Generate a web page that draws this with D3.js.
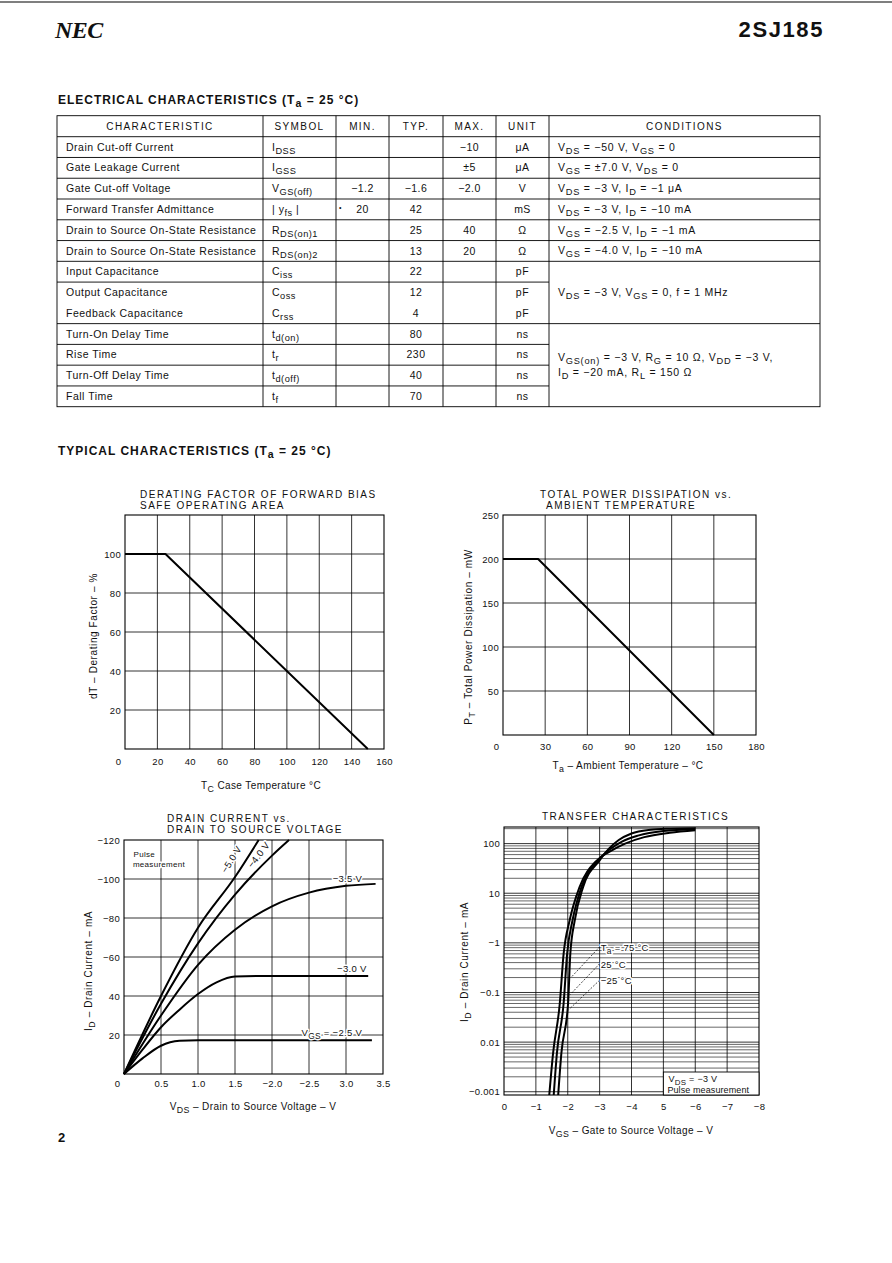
<!DOCTYPE html>
<html>
<head>
<meta charset="utf-8">
<title>2SJ185</title>
<script src="https://cdn.jsdelivr.net/npm/d3@7/dist/d3.min.js"></script>
<style>
  body { margin: 0; background: #fff; }
  svg { display: block; }
  text { font-family: "Liberation Sans", Arial, Helvetica, sans-serif; fill: #111; }
</style>
</head>
<body>
<svg id="page" width="892" height="1263"></svg>
<script>
// ---------- table data
var headers = ["CHARACTERISTIC", "SYMBOL", "MIN.", "TYP.", "MAX.", "UNIT", "CONDITIONS"];
var characteristics = ["Drain Cut-off Current", "Gate Leakage Current", "Gate Cut-off Voltage",
  "Forward Transfer Admittance", "Drain to Source On-State Resistance", "Drain to Source On-State Resistance",
  "Input Capacitance", "Output Capacitance", "Feedback Capacitance", "Turn-On Delay Time",
  "Rise Time", "Turn-Off Delay Time", "Fall Time"];
var symbols = ["I_{DSS}", "I_{GSS}", "V_{GS(off)}", "| y_{fs} |", "R_{DS(on)1}", "R_{DS(on)2}",
  "C_{iss}", "C_{oss}", "C_{rss}", "t_{d(on)}", "t_{r}", "t_{d(off)}", "t_{f}"];
var minVals = ["", "", "\u22121.2", "20", "", "", "", "", "", "", "", "", ""];
var minMarks = ["", "", "", "\u2022", "", "", "", "", "", "", "", "", ""];
var typVals = ["", "", "\u22121.6", "42", "25", "13", "22", "12", "4", "80", "230", "40", "70"];
var maxVals = ["\u221210", "\u00b15", "\u22122.0", "", "40", "20", "", "", "", "", "", "", ""];
var units = ["\u03bcA", "\u03bcA", "V", "mS", "\u03a9", "\u03a9", "pF", "pF", "pF", "ns", "ns", "ns", "ns"];
var condRows = [[0], [1], [2], [3], [4], [5], [6, 7, 8], [9, 10, 11, 12]];
var condTexts = [
  ["V_{DS} = \u221250 V, V_{GS} = 0"],
  ["V_{GS} = \u00b17.0 V, V_{DS} = 0"],
  ["V_{DS} = \u22123 V, I_{D} = \u22121 \u03bcA"],
  ["V_{DS} = \u22123 V, I_{D} = \u221210 mA"],
  ["V_{GS} = \u22122.5 V, I_{D} = \u22121 mA"],
  ["V_{GS} = \u22124.0 V, I_{D} = \u221210 mA"],
  ["V_{DS} = \u22123 V, V_{GS} = 0, f = 1 MHz"],
  ["V_{GS(on)} = \u22123 V, R_{G} = 10 \u03a9, V_{DD} = \u22123 V,", "I_{D} = \u221220 mA, R_{L} = 150 \u03a9"]
];

// ---------- chart 1: derating factor
var derateTemp = [0, 25, 150];
var derateFactor = [100, 100, 0];
var derateXTicks = [0, 20, 40, 60, 80, 100, 120, 140, 160];
var derateXLabels = ["0", "20", "40", "60", "80", "100", "120", "140", "160"];
var derateYTicks = [20, 40, 60, 80, 100];
var derateYLabels = ["20", "40", "60", "80", "100"];

// ---------- chart 2: total power dissipation
var powerTemp = [0, 25, 150];
var powerDiss = [200, 200, 0];
var powerXTicks = [0, 30, 60, 90, 120, 150, 180];
var powerXLabels = ["0", "30", "60", "90", "120", "150", "180"];
var powerYTicks = [50, 100, 150, 200, 250];
var powerYLabels = ["50", "100", "150", "200", "250"];

// ---------- chart 3: drain current vs drain to source voltage  [ |VDS| V, |ID| mA ]
var idVgs25 = [[0, 0], [0.25, 8], [0.5, 14.5], [0.75, 17], [1.0, 17.3], [3.35, 17.3]];
var idVgs30 = [[0, 0], [0.25, 12.5], [0.5, 24], [0.75, 33], [1.0, 41], [1.25, 47], [1.5, 50], [2.0, 50.3], [3.3, 50.3]];
var idVgs35 = [[0, 0], [0.5, 30], [1.0, 56], [1.5, 74], [2.0, 86], [2.5, 93], [3.0, 96.5], [3.4, 97.5]];
var idVgs40 = [[0, 0], [0.5, 36], [1.0, 67], [1.5, 92], [2.0, 112], [2.23, 120]];
var idVgs50 = [[0, 0], [0.5, 40], [1.0, 75], [1.5, 101], [1.82, 120]];
var drainXTicks = [0, 0.5, 1.0, 1.5, 2.0, 2.5, 3.0, 3.5];
var drainXLabels = ["0", "0.5", "1.0", "1.5", "\u22122.0", "\u22122.5", "3.0", "3.5"];
var drainYTicks = [20, 40, 60, 80, 100, 120];
var drainYLabels = ["20", "40", "\u221260", "\u221280", "\u2212100", "\u2212120"];

// ---------- chart 4: transfer characteristics  [ |VGS| V, |ID| mA ]
var transM25 = [[1.70, 0.00086], [1.80, 0.006], [2.01, 0.06], [2.08, 0.6], [2.22, 2.85], [2.48, 13.3],
  [3.0, 46], [3.3, 80], [3.6, 118], [4.0, 160], [4.6, 190], [5.2, 200], [6.0, 205]];
var trans25 = [[1.56, 0.00086], [1.66, 0.006], [1.87, 0.06], [1.98, 0.6], [2.15, 2.85], [2.43, 13.3],
  [2.95, 46], [3.3, 75], [3.7, 110], [4.2, 145], [5.0, 180], [6.0, 195]];
var trans75 = [[1.42, 0.00086], [1.54, 0.006], [1.75, 0.06], [1.87, 0.6], [2.06, 2.85], [2.37, 13.3],
  [2.90, 45], [3.3, 68], [3.8, 100], [4.4, 135], [5.2, 165], [6.0, 185]];
var transXTicks = [0, 1, 2, 3, 4, 5, 6, 7, 8];
var transXLabels = ["0", "\u22121", "\u22122", "\u22123", "\u22124", "5", "\u22126", "\u22127", "\u22128"];
var transYTicks = [0.001, 0.01, 0.1, 1, 10, 100];
var transYLabels = ["\u22120.001", "0.01", "\u22120.1", "\u22121", "10", "100"];

var svg = d3.select("#page");

// text with V_{DS} style subscripts
function rich(t, str) {
  var parts = str.split(/(_\{[^}]*\})/), shift = 0;
  parts.forEach(function(p) {
    if (p === "") return;
    var sp = t.append("tspan");
    if (p.charAt(0) === "_") {
      sp.attr("dy", 3 - shift).attr("font-size", "0.88em").text(p.slice(2, -1));
      shift = 3;
    } else {
      if (shift) sp.attr("dy", -shift);
      shift = 0;
      sp.text(p);
    }
  });
  return t;
}

// ---------- page header
svg.append("line").attr("x1", 0).attr("x2", 892).attr("y1", 2).attr("y2", 2)
  .attr("stroke", "#000").attr("stroke-width", 1.2);
svg.append("text").attr("x", 55).attr("y", 38)
  .style("font-family", "'Liberation Serif', 'Times New Roman', serif")
  .attr("font-size", 24).attr("font-weight", "bold").attr("font-style", "italic")
  .attr("letter-spacing", -0.5).text("NEC");
svg.append("text").attr("x", 824).attr("y", 37).attr("text-anchor", "end")
  .attr("font-size", 22).attr("font-weight", "bold").attr("letter-spacing", 1.6).text("2SJ185");

rich(svg.append("text").attr("x", 58).attr("y", 104).attr("font-size", 12)
  .attr("font-weight", "bold").attr("letter-spacing", 1.0), "ELECTRICAL CHARACTERISTICS (T_{a} = 25 \u00b0C)");
rich(svg.append("text").attr("x", 58).attr("y", 455).attr("font-size", 12)
  .attr("font-weight", "bold").attr("letter-spacing", 1.0), "TYPICAL CHARACTERISTICS (T_{a} = 25 \u00b0C)");
svg.append("text").attr("x", 58).attr("y", 1142).attr("font-size", 13)
  .attr("font-weight", "bold").text("2");

// ---------- table
var colX = [57, 263, 336, 389, 443, 496, 549, 820];
var tblTop = 115.7, headBottom = 136.7, rowH = 20.77;
var nRows = characteristics.length;
var tblBottom = headBottom + nRows * rowH;
function rowTop(i) { return headBottom + i * rowH; }

var tbl = svg.append("g").attr("stroke", "#000").attr("stroke-width", 0.9);
tbl.append("rect").attr("x", colX[0]).attr("y", tblTop)
  .attr("width", colX[7] - colX[0]).attr("height", tblBottom - tblTop).attr("fill", "none");
tbl.selectAll(".vcol").data(colX.slice(1, 7)).enter().append("line")
  .attr("x1", function(d) { return d; }).attr("x2", function(d) { return d; })
  .attr("y1", tblTop).attr("y2", tblBottom);
tbl.append("line").attr("x1", colX[0]).attr("x2", colX[7]).attr("y1", headBottom).attr("y2", headBottom);

var condStarts = condRows.map(function(r) { return r[0]; });
d3.range(1, nRows).forEach(function(b) {
  if (b === 8) return; // output / feedback rows are not split
  var right = condStarts.indexOf(b) >= 0 ? colX[7] : colX[6];
  tbl.append("line").attr("x1", colX[0]).attr("x2", right)
    .attr("y1", rowTop(b)).attr("y2", rowTop(b));
});

var hdr = svg.append("g").attr("font-size", 10).attr("letter-spacing", 1.4);
headers.forEach(function(h, i) {
  hdr.append("text").attr("x", (colX[i] + colX[i + 1]) / 2).attr("y", 130)
    .attr("text-anchor", "middle").text(h);
});

var body = svg.append("g").attr("font-size", 10.5).attr("letter-spacing", 0.5);
characteristics.forEach(function(c, i) {
  var yb = rowTop(i) + 14;
  body.append("text").attr("x", 66).attr("y", yb).text(c);
  rich(body.append("text").attr("x", 272).attr("y", yb), symbols[i]);
  [minVals, typVals, maxVals, units].forEach(function(arr, k) {
    if (!arr[i]) return;
    body.append("text").attr("x", (colX[k + 2] + colX[k + 3]) / 2).attr("y", yb)
      .attr("text-anchor", "middle").text(arr[i]);
  });
  if (minMarks[i]) body.append("text").attr("x", 339).attr("y", yb - 3).attr("font-size", 7).text(minMarks[i]);
});
condRows.forEach(function(rows, g) {
  var center = (rowTop(rows[0]) + rowTop(rows[rows.length - 1] + 1)) / 2;
  var lines = condTexts[g];
  lines.forEach(function(s, j) {
    rich(body.append("text").attr("x", 558).attr("letter-spacing", 0.75)
      .attr("y", center + 3.5 + (j - (lines.length - 1) / 2) * 15), s);
  });
});

// ---------- chart helper
function drawChart(c) {
  var g = svg.append("g");
  var x = d3.scaleLinear().domain(c.xDomain).range([c.left, c.left + c.width]);
  var y = (c.log ? d3.scaleLog() : d3.scaleLinear()).domain(c.yDomain).range([c.top + c.height, c.top]);
  var x0 = c.left, x1 = c.left + c.width, y0 = c.top + c.height, y1 = c.top;

  if (c.yMinor) {
    g.selectAll(".ym").data(c.yMinor).enter().append("line")
      .attr("x1", x0).attr("x2", x1)
      .attr("y1", function(d) { return y(d); }).attr("y2", function(d) { return y(d); })
      .attr("stroke", "#000").attr("stroke-width", 0.6);
  }
  g.selectAll(".xg").data(c.xGrid).enter().append("line")
    .attr("x1", function(d) { return x(d); }).attr("x2", function(d) { return x(d); })
    .attr("y1", y1).attr("y2", y0).attr("stroke", "#000").attr("stroke-width", 0.8);
  g.selectAll(".yg").data(c.yGrid).enter().append("line")
    .attr("x1", x0).attr("x2", x1)
    .attr("y1", function(d) { return y(d); }).attr("y2", function(d) { return y(d); })
    .attr("stroke", "#000").attr("stroke-width", 0.8);
  g.append("rect").attr("x", x0).attr("y", y1).attr("width", c.width).attr("height", c.height)
    .attr("fill", "none").attr("stroke", "#000").attr("stroke-width", 1.1);

  var xa = g.append("g").attr("transform", "translate(0," + y0 + ")")
    .call(d3.axisBottom(x).tickValues(c.xTicks).tickSize(0).tickPadding(c.xPad)
      .tickFormat(function(d, i) { return c.xLabels[i]; }));
  var ya = g.append("g").attr("transform", "translate(" + x0 + ",0)")
    .call(d3.axisLeft(y).tickValues(c.yTicks).tickSize(0).tickPadding(4)
      .tickFormat(function(d, i) { return c.yLabels[i]; }));
  [xa, ya].forEach(function(a) {
    a.select(".domain").remove();
    a.attr("font-family", null).attr("font-size", 9.5).attr("letter-spacing", 0.3);
  });
  if (c.zeroShift) xa.select(".tick text").attr("dx", c.zeroShift);

  var tt = g.append("g").attr("font-size", 10).attr("letter-spacing", 1.5);
  c.title.forEach(function(s, i) {
    tt.append("text").attr("x", c.titleX[i]).attr("y", c.titleY[i]).text(s);
  });
  rich(g.append("text").attr("x", c.xTitlePos[0]).attr("y", c.xTitlePos[1])
    .attr("text-anchor", "middle").attr("font-size", 10).attr("letter-spacing", 0.4), c.xTitle);
  rich(g.append("text").attr("text-anchor", "middle").attr("font-size", 10).attr("letter-spacing", 0.6)
    .attr("transform", "translate(" + c.yTitlePos[0] + "," + c.yTitlePos[1] + ") rotate(-90)"), c.yTitle);

  var line = d3.line().x(function(d) { return x(d[0]); }).y(function(d) { return y(d[1]); });
  if (c.smooth) line.curve(d3.curveMonotoneX);
  c.series.forEach(function(s) {
    g.append("path").attr("d", line(s)).attr("fill", "none")
      .attr("stroke", "#000").attr("stroke-width", 2).attr("stroke-linejoin", "round");
  });
  return { g: g, x: x, y: y };
}

function haloText(g, px, py, s, opts) {
  var t = g.append("text").attr("x", px).attr("y", py).attr("font-size", opts.size || 9.5)
    .attr("stroke", "#fff").attr("stroke-width", 3).attr("paint-order", "stroke")
    .attr("stroke-linejoin", "round").attr("letter-spacing", 0.3);
  if (opts.anchor) t.attr("text-anchor", opts.anchor);
  if (opts.middle) t.attr("dy", "0.35em");
  if (opts.rotate) t.attr("transform", "rotate(" + opts.rotate + "," + px + "," + py + ")");
  return rich(t, s);
}

function zip(a, b) { return a.map(function(v, i) { return [v, b[i]]; }); }

// chart 1
drawChart({
  left: 125, top: 515, width: 259, height: 234,
  xDomain: [0, 160], yDomain: [0, 120],
  xGrid: [20, 40, 60, 80, 100, 120, 140], yGrid: [20, 40, 60, 80, 100],
  xTicks: derateXTicks, xLabels: derateXLabels, yTicks: derateYTicks, yLabels: derateYLabels,
  xPad: 9, zeroShift: -7,
  title: ["DERATING FACTOR OF FORWARD BIAS", "SAFE OPERATING AREA"],
  titleX: [140, 140], titleY: [498, 509],
  xTitle: "T_{C}    Case Temperature    \u00b0C", xTitlePos: [261, 789],
  yTitle: "dT \u2013 Derating Factor \u2013 %", yTitlePos: [97, 636],
  series: [zip(derateTemp, derateFactor)]
});

// chart 2
drawChart({
  left: 503, top: 515, width: 253, height: 220,
  xDomain: [0, 180], yDomain: [0, 250],
  xGrid: [30, 60, 90, 120, 150], yGrid: [50, 100, 150, 200],
  xTicks: powerXTicks, xLabels: powerXLabels, yTicks: powerYTicks, yLabels: powerYLabels,
  xPad: 8, zeroShift: -7,
  title: ["TOTAL POWER DISSIPATION vs.", "AMBIENT TEMPERATURE"],
  titleX: [540, 546], titleY: [498, 508.5],
  xTitle: "T_{a} \u2013 Ambient Temperature \u2013 \u00b0C", xTitlePos: [628, 769],
  yTitle: "P_{T} \u2013 Total Power Dissipation \u2013 mW", yTitlePos: [472, 637],
  series: [zip(powerTemp, powerDiss)]
});

// chart 3
var c3 = drawChart({
  left: 124, top: 840, width: 259, height: 234,
  xDomain: [0, 3.5], yDomain: [0, 120],
  xGrid: [0.5, 1.0, 1.5, 2.0, 2.5, 3.0], yGrid: [20, 40, 60, 80, 100],
  xTicks: drainXTicks, xLabels: drainXLabels, yTicks: drainYTicks, yLabels: drainYLabels,
  xPad: 6, zeroShift: -7, smooth: true,
  title: ["DRAIN CURRENT vs.", "DRAIN TO SOURCE VOLTAGE"],
  titleX: [167, 167], titleY: [822, 833],
  xTitle: "V_{DS} \u2013 Drain to Source Voltage \u2013 V", xTitlePos: [253, 1110],
  yTitle: "I_{D} \u2013 Drain Current \u2013 mA", yTitlePos: [92, 971],
  series: [idVgs25, idVgs30, idVgs35, idVgs40, idVgs50]
});
haloText(c3.g, c3.x(1.45), c3.y(110), "\u22125.0 V", { anchor: "middle", middle: true, rotate: -58 });
haloText(c3.g, c3.x(1.82), c3.y(112.4), "\u22124.0 V", { anchor: "middle", middle: true, rotate: -52 });
haloText(c3.g, c3.x(2.82), c3.y(98.6), "\u22123.5 V", {});
haloText(c3.g, c3.x(2.88), c3.y(52.5), "\u22123.0 V", {});
haloText(c3.g, c3.x(2.4), c3.y(19.6), "V_{GS} = \u22122.5 V", {});
haloText(c3.g, c3.x(0.13), c3.y(111.5), "Pulse", { size: 8 });
haloText(c3.g, c3.x(0.12), c3.y(106.3), "measurement", { size: 8 });

// chart 4
var decades = [0.001, 0.01, 0.1, 1, 10, 100];
var minor = [];
decades.forEach(function(d) { [2, 3, 4, 5, 6, 7, 8, 9].forEach(function(k) { if (d * k < 216) minor.push(d * k); }); });
var c4 = drawChart({
  left: 504, top: 827, width: 255, height: 268, log: true,
  xDomain: [0, 8], yDomain: [0.00086, 216],
  xGrid: [1, 2, 3, 4, 5, 6, 7], yGrid: decades, yMinor: minor,
  xTicks: transXTicks, xLabels: transXLabels, yTicks: transYTicks, yLabels: transYLabels,
  xPad: 8, smooth: true,
  title: ["TRANSFER CHARACTERISTICS"], titleX: [542], titleY: [820],
  xTitle: "V_{GS} \u2013 Gate to Source Voltage \u2013 V", xTitlePos: [631, 1134],
  yTitle: "I_{D} \u2013 Drain Current \u2013 mA", yTitlePos: [468, 962],
  series: [transM25, trans25, trans75]
});
// temperature leaders
var leaderFrom = [[3.0, 0.83], [3.0, 0.38], [3.0, 0.177]];
var leaderTo = [[2.10, 0.2], [2.07, 0.09], [2.03, 0.045]];
var leaderText = ["T_{a} = 75 \u00b0C", "25 \u00b0C", "\u221225 \u00b0C"];
leaderFrom.forEach(function(p, i) {
  c4.g.append("line").attr("x1", c4.x(p[0])).attr("y1", c4.y(p[1]))
    .attr("x2", c4.x(leaderTo[i][0])).attr("y2", c4.y(leaderTo[i][1]))
    .attr("stroke", "#000").attr("stroke-width", 0.7).attr("stroke-dasharray", "2,1.5");
  haloText(c4.g, c4.x(p[0]) + 1, c4.y(p[1]) + 4, leaderText[i], { size: 9.5 });
});
// VDS note box
var boxX = c4.x(5), boxY = c4.y(0.0025);
c4.g.append("rect").attr("x", boxX).attr("y", boxY)
  .attr("width", c4.x(8) - boxX).attr("height", c4.y(0.00086) - boxY)
  .attr("fill", "#fff").attr("stroke", "#000").attr("stroke-width", 0.9);
rich(c4.g.append("text").attr("x", boxX + 5).attr("y", boxY + 10.5).attr("font-size", 9)
  .attr("letter-spacing", 0.3), "V_{DS} = \u22123 V");
c4.g.append("text").attr("x", boxX + 4).attr("y", boxY + 21).attr("font-size", 9)
  .attr("letter-spacing", 0.1).text("Pulse measurement");
</script>
</body>
</html>
